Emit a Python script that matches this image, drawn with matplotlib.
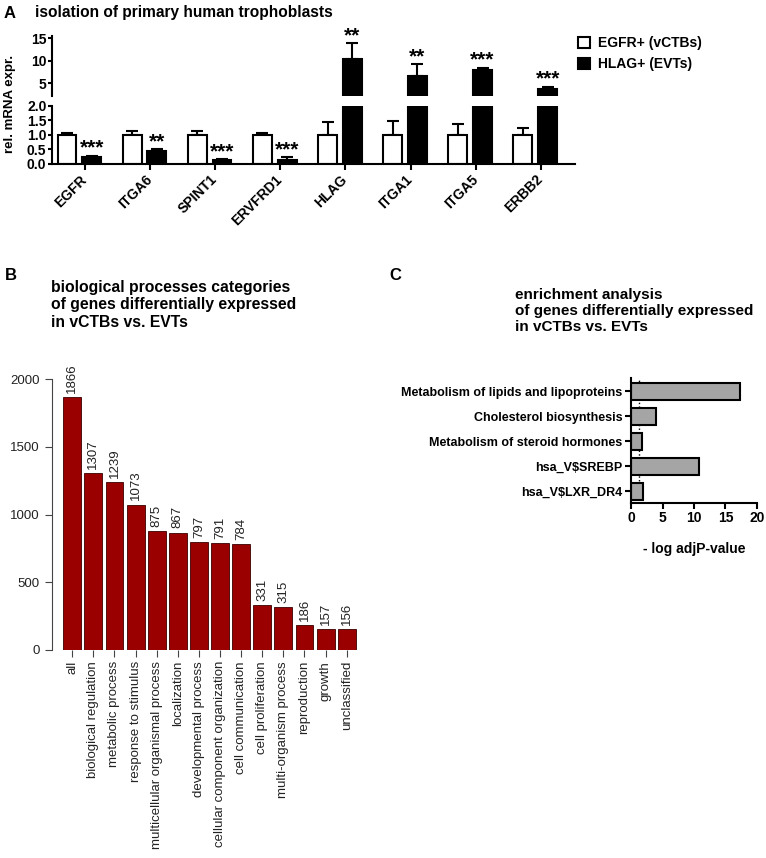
import numpy as np
import matplotlib
matplotlib.use('Agg')
import matplotlib.pyplot as plt
from matplotlib.patches import Patch

plt.rcParams['font.family'] = ['Liberation Sans', 'DejaVu Sans']

# panel A: qPCR of sorted trophoblasts
genes = ['EGFR', 'ITGA6', 'SPINT1', 'ERVFRD1', 'HLAG', 'ITGA1', 'ITGA5', 'ERBB2']
vctb_mean = [1.0, 1.0, 1.0, 1.0, 1.0, 1.0, 1.0, 1.0]
vctb_err = [0.07, 0.14, 0.12, 0.07, 0.44, 0.48, 0.38, 0.24]
evt_mean = [0.24, 0.42, 0.11, 0.13, 10.3, 6.6, 7.95, 3.8]
evt_err = [0.03, 0.08, 0.03, 0.08, 3.6, 2.6, 0.5, 0.5]
stars = ['***', '**', '***', '***', '**', '**', '***', '***']

# panel B: GO biological process categories
go_cats = ['all', 'biological regulation', 'metabolic process', 'response to stimulus',
           'multicellular organismal process', 'localization', 'developmental process',
           'cellular component organization', 'cell communication', 'cell proliferation',
           'multi-organism process', 'reproduction', 'growth', 'unclassified']
go_counts = [1866, 1307, 1239, 1073, 875, 867, 797, 791, 784, 331, 315, 186, 157, 156]

# panel C: enrichment analysis
terms = ['Metabolism of lipids and lipoproteins', 'Cholesterol biosynthesis',
         'Metabolism of steroid hormones', 'hsa_V$SREBP', 'hsa_V$LXR_DR4']
neg_log_p = [17.3, 4.0, 1.7, 10.8, 1.9]
cutoff = 1.3

W, H = 766, 858
fig = plt.figure(figsize=(W / 100, H / 100), dpi=100)


def px_axes(l, t, r, b):
    return fig.add_axes([l / W, 1 - b / H, (r - l) / W, (b - t) / H])


def px_text(x, y, s, **kw):
    fig.text(x / W, 1 - y / H, s, **kw)


# ---------------- A ----------------
ax_top = px_axes(52, 36, 575, 96)
ax_bot = px_axes(52, 105.7, 575, 163.5)
x = np.arange(len(genes))
off, bw = 0.19, 0.29
lw = 1.5

for ax in (ax_top, ax_bot):
    ax.bar(x - off, vctb_mean, bw, color='white', edgecolor='black', linewidth=lw, zorder=2)
    ax.bar(x + off, evt_mean, bw, color='black', edgecolor='black', linewidth=lw, zorder=2)
    ax.errorbar(x - off, vctb_mean, yerr=[np.zeros(len(x)), vctb_err], fmt='none',
                ecolor='black', elinewidth=lw, capsize=4, capthick=lw, zorder=1)
    ax.errorbar(x + off, evt_mean, yerr=[np.zeros(len(x)), evt_err], fmt='none',
                ecolor='black', elinewidth=lw, capsize=4, capthick=lw, zorder=1)
    ax.set_xlim(-0.42, 7.61)
    for s in ('top', 'right'):
        ax.spines[s].set_visible(False)
    ax.spines['left'].set_linewidth(lw)
    ax.spines['bottom'].set_linewidth(lw)
    ax.tick_params(axis='y', length=3, width=lw, pad=1, labelsize=10)

ax_top.set_ylim(2.2, 15.5)
ax_top.set_yticks([5, 10, 15])
ax_top.spines['bottom'].set_visible(False)
ax_top.set_xticks([])
ax_bot.set_ylim(0, 2)
ax_bot.set_yticks([0, 0.5, 1.0, 1.5, 2.0])
ax_bot.set_yticklabels(['0.0', '0.5', '1.0', '1.5', '2.0'])
ax_bot.set_xticks(x + 0.085)
ax_bot.set_xticklabels(genes, rotation=45, ha='right', va='center', rotation_mode='anchor',
                       fontsize=10, fontweight='bold')
ax_bot.tick_params(axis='x', length=4, width=lw, pad=6)
for ax in (ax_top, ax_bot):
    for lab in ax.get_yticklabels():
        lab.set_fontweight('bold')

for i, st in enumerate(stars):
    top = evt_mean[i] + evt_err[i]
    ax = ax_top if top > 2 else ax_bot
    ax.annotate(st, (x[i] + off, top), xytext=(0, 1.5), textcoords='offset points',
                ha='center', va='baseline', fontsize=15, fontweight='bold',
                annotation_clip=False)

px_text(4, 104, 'rel. mRNA expr.', rotation=90, ha='left', va='center',
        fontsize=9.5, fontweight='bold')
px_text(4, 13, 'A', fontsize=12, fontweight='bold', va='center')
px_text(35, 12, 'isolation of primary human trophoblasts', fontsize=11.2,
        fontweight='bold', va='center')

handles = [Patch(facecolor='white', edgecolor='black', linewidth=lw),
           Patch(facecolor='black', edgecolor='black', linewidth=lw)]
fig.legend(handles, ['EGFR+ (vCTBs)', 'HLAG+ (EVTs)'], loc='upper left',
           bbox_to_anchor=(578 / W, 1 - 36 / H), frameon=False, borderpad=0,
           borderaxespad=0, handlelength=0.85, handleheight=0.85, handletextpad=0.6,
           labelspacing=0.5, prop={'size': 10, 'weight': 'bold'})

# ---------------- B ----------------
axb = px_axes(52, 379, 360, 650)
xb = np.arange(len(go_cats))
axb.bar(xb, go_counts, 0.85, color='#9b0000', edgecolor='#3a0000', linewidth=0.6)
axb.set_xlim(-0.96, 13.63)
axb.set_ylim(0, 2000)
axb.set_yticks([0, 500, 1000, 1500, 2000])
for s in ('top', 'right', 'bottom'):
    axb.spines[s].set_visible(False)
axb.spines['left'].set_color('#444444')
axb.tick_params(axis='y', length=5, pad=4, labelsize=9.5, color='#444444', labelcolor='#222222')
axb.set_xticks(xb)
axb.set_xticklabels(go_cats, rotation=90, ha='center', va='top', fontsize=9.5, color='#222222')
axb.tick_params(axis='x', length=5, pad=3, color='#444444')
for xi, v in zip(xb, go_counts):
    axb.annotate(str(v), (xi, v), xytext=(0, 3), textcoords='offset points', rotation=90,
                 ha='center', va='bottom', fontsize=9.5, color='#222222', annotation_clip=False)

px_text(5, 275, 'B', fontsize=12, fontweight='bold', va='center')
px_text(51, 280, 'biological processes categories\nof genes differentially expressed\nin vCTBs vs. EVTs',
        fontsize=11.3, fontweight='bold', va='top', linespacing=1.2)

# ---------------- C ----------------
axc = px_axes(631, 378, 757, 503)
yc = np.arange(len(terms))
axc.barh(yc, neg_log_p, 0.68, color='#a5a5a5', edgecolor='black', linewidth=lw)
axc.axvline(cutoff, color='black', linestyle=':', linewidth=1, zorder=0)
axc.set_xlim(0, 20)
axc.set_ylim(4.46, -0.52)
axc.set_xticks([0, 5, 10, 15, 20])
axc.set_yticks(yc)
axc.set_yticklabels(terms, fontsize=9, fontweight='bold')
for lab in axc.get_xticklabels():
    lab.set_fontweight('bold')
axc.tick_params(axis='x', length=4, width=lw, labelsize=10, pad=2)
axc.tick_params(axis='y', length=4, width=lw, pad=2)
for s in ('top', 'right'):
    axc.spines[s].set_visible(False)
axc.spines['left'].set_linewidth(lw)
axc.spines['bottom'].set_linewidth(lw)
axc.set_xlabel('- log adjP-value', fontsize=10, fontweight='bold', labelpad=12)

px_text(389, 275, 'C', fontsize=12, fontweight='bold', va='center')
px_text(515, 288, 'enrichment analysis\nof genes differentially expressed\nin vCTBs vs. EVTs',
        fontsize=11, fontweight='bold', va='top', linespacing=1.2)

fig.savefig('out.png', dpi=100)
